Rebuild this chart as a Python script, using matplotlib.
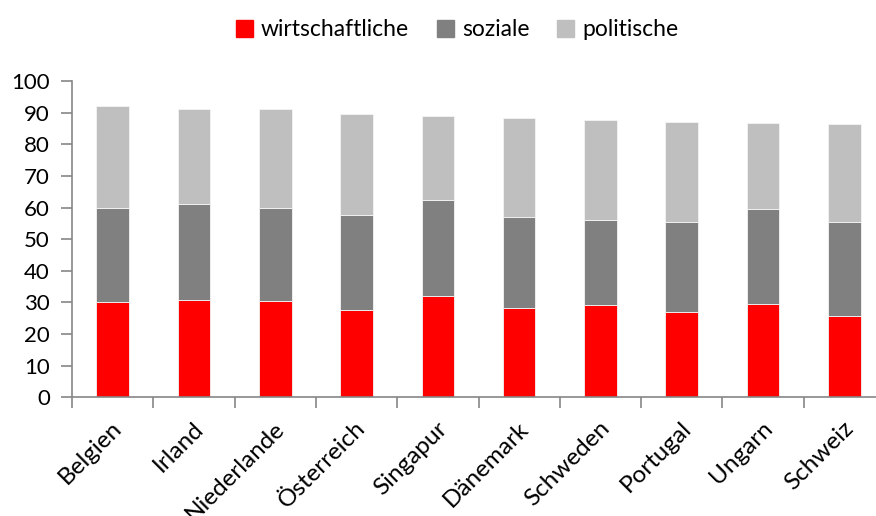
import numpy as np
import matplotlib
matplotlib.use("Agg")
import matplotlib.pyplot as plt
import matplotlib.transforms as mtransforms
from matplotlib.patches import Patch

# Daten
laender = ["Belgien", "Irland", "Niederlande", "Österreich", "Singapur",
           "Dänemark", "Schweden", "Portugal", "Ungarn", "Schweiz"]
wirtschaftliche = [30.1, 30.9, 30.3, 27.6, 32.0, 28.3, 29.2, 27.1, 29.6, 25.8]
soziale = [29.7, 30.2, 29.5, 29.9, 30.4, 28.6, 27.0, 28.3, 29.8, 29.5]
politische = [32.4, 30.0, 31.3, 32.2, 26.6, 31.3, 31.5, 31.5, 27.2, 31.2]

farben = ["#FF0000", "#808080", "#BFBFBF"]
achse = "#868686"

plt.rcParams['font.family'] = ['Lato', 'DejaVu Sans']

fig = plt.figure(figsize=(8.76, 5.16), dpi=100)
ax = fig.add_axes([72 / 876, 1 - 397.3 / 516, 813 / 876, 316.3 / 516])

x = np.arange(len(laender))
w = np.array(wirtschaftliche)
s = np.array(soziale)
p = np.array(politische)
ax.bar(x, w, 0.4, color=farben[0], edgecolor="#f4f4f4", linewidth=0.6)
ax.bar(x, s, 0.4, bottom=w, color=farben[1], edgecolor="#f4f4f4", linewidth=0.6)
ax.bar(x, p, 0.4, bottom=w + s, color=farben[2], edgecolor="#f4f4f4", linewidth=0.6)

ax.set_xlim(-0.5, len(laender) - 0.5)
ax.set_ylim(0, 100)
ax.set_yticks(np.arange(0, 101, 10))
ax.set_xticks(np.arange(-0.5, len(laender), 1.0))
ax.set_xticklabels([])
ax.set_xticks(x, minor=True)
ax.set_xticklabels(laender, minor=True, rotation=45, ha="right", va="center",
                   rotation_mode="anchor", fontsize=17.5)
ax.tick_params(axis="x", which="minor", length=0, pad=20)
ax.tick_params(axis="x", which="major", length=8, width=1.2, color=achse, direction="out")
ax.tick_params(axis="y", length=8, width=1.2, color=achse, direction="out", labelsize=16, pad=8)

verschiebung = mtransforms.ScaledTranslation(6 / 100, 0, fig.dpi_scale_trans)
for lbl in ax.xaxis.get_minorticklabels():
    lbl.set_transform(lbl.get_transform() + verschiebung)

for sp in ["top", "right"]:
    ax.spines[sp].set_visible(False)
for sp in ["left", "bottom"]:
    ax.spines[sp].set_color(achse)
    ax.spines[sp].set_linewidth(1.2)

handles = [Patch(color=c) for c in farben]
fig.legend(handles, ["wirtschaftliche", "soziale", "politische"], loc="center",
           bbox_to_anchor=(457 / 876, 1 - 30 / 516), ncol=3, frameon=False,
           fontsize=16.5, handlelength=0.75, handleheight=0.75, handletextpad=0.35,
           columnspacing=1.2)

fig.savefig("out.png", dpi=100)
